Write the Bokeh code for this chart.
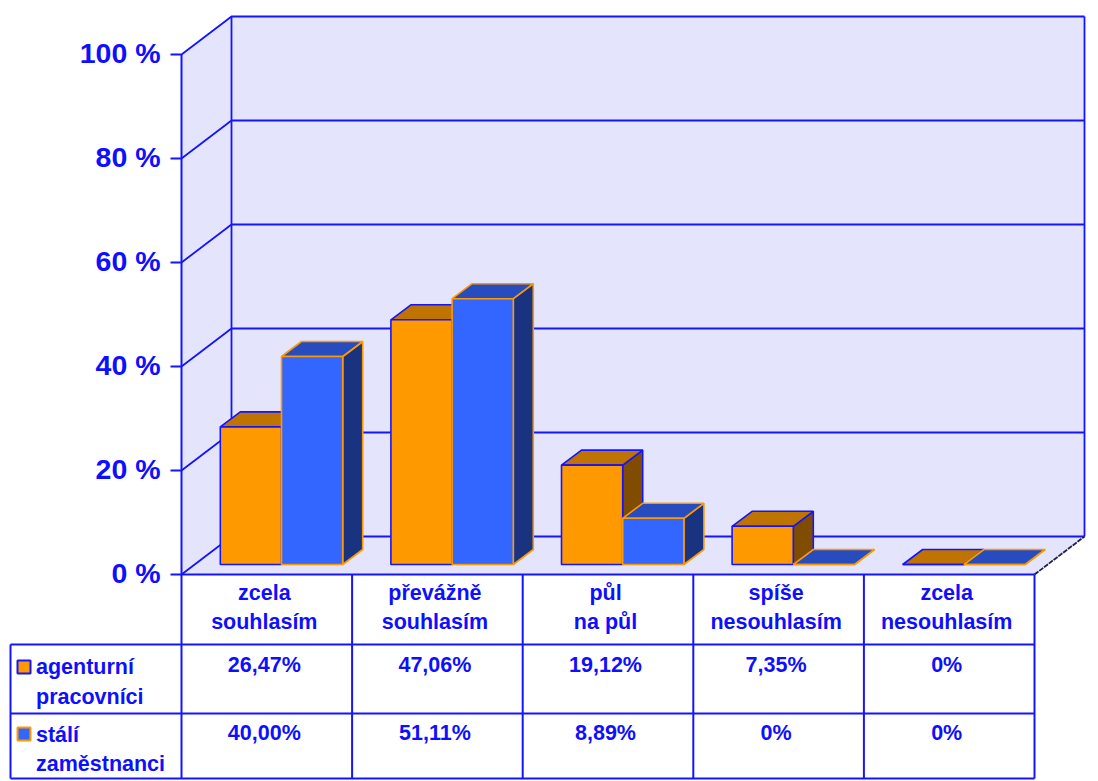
from bokeh.core.properties import value
from bokeh.embed import file_html
from bokeh.models import Range1d
from bokeh.plotting import figure
from bokeh.resources import INLINE

# Survey answers, in percent
categories = [["zcela", "souhlasím"], ["převážně", "souhlasím"], ["půl", "na půl"],
              ["spíše", "nesouhlasím"], ["zcela", "nesouhlasím"]]
agency_workers = [26.47, 47.06, 19.12, 7.35, 0]
permanent_staff = [40.00, 51.11, 8.89, 0, 0]
agency_labels = ["26,47%", "47,06%", "19,12%", "7,35%", "0%"]
permanent_labels = ["40,00%", "51,11%", "8,89%", "0%", "0%"]
agency_name = ["agenturní", "pracovníci"]
permanent_name = ["stálí", "zaměstnanci"]
y_ticks = [0, 20, 40, 60, 80, 100]

# Chart geometry, x in category widths and y in percentage points
PX_X = 170.6
PX_Y = 5.2
WALL_DX, WALL_DY = 50 / PX_X, 38 / PX_Y
BAR_W = 61.2 / PX_X
BAR_X0 = 38.8 / PX_X
BAR_BASE = 10 / PX_Y
BAR_DX, BAR_DY = 20 / PX_X, 15 / PX_Y
N = len(categories)

LINE = "#1414ff"
INK = "#0f0fff"
WALL = "#e4e4fc"
FONT = "Liberation Sans"
TEXT_SHIFT = -2.5 / PX_X


def below_zero(px):
    """Percentage-axis coordinate of a table row given in pixels below the zero line."""
    return -px / PX_Y


def px_x(px):
    """Category-axis coordinate of a position given in pixels right of the front axis."""
    return px / PX_X


p = figure(width=1098, height=781, output_backend="svg", toolbar_location=None,
           x_range=Range1d(px_x(-181), px_x(1098 - 181)),
           y_range=Range1d(below_zero(781 - 574), 574 / PX_Y),
           min_border=0, x_axis_location=None, y_axis_location=None, outline_line_color=None)
p.grid.visible = False
p.background_fill_color = "white"


def label(x, y, text, align="center", size="21.5px"):
    p.text([x], [y], text=[text], text_align=align, text_baseline="middle",
           text_font=value(FONT), text_font_style="bold", text_font_size=size, text_color=INK)


# Walls and floor of the box
p.patch([0, WALL_DX, WALL_DX, 0], [0, WALL_DY, 100 + WALL_DY, 100], fill_color=WALL, line_color=None)
p.patch([WALL_DX, N + WALL_DX, N + WALL_DX, WALL_DX],
        [WALL_DY, WALL_DY, 100 + WALL_DY, 100 + WALL_DY], fill_color=WALL, line_color=None)
p.patch([0, N, N + WALL_DX, WALL_DX], [0, 0, WALL_DY, WALL_DY], fill_color=WALL, line_color=None)

# Percentage scale: ticks, labels and the grid lines running round the walls
TICK_LIFT = 1.5 / PX_Y
for t in y_ticks:
    p.line([px_x(-11), 0, WALL_DX, N + WALL_DX], [t, t, t + WALL_DY, t + WALL_DY],
           line_color=LINE, line_width=1.8)
    label(px_x(-21), t + TICK_LIFT, f"{t} %", align="right", size="28.5px")
p.line([0, 0], [below_zero(204), 100], line_color=LINE, line_width=2)
p.line([WALL_DX, WALL_DX], [WALL_DY, 100 + WALL_DY], line_color=LINE, line_width=1.8)
p.line([N + WALL_DX, N + WALL_DX], [WALL_DY, 100 + WALL_DY], line_color=LINE, line_width=1.8)
p.line([N, N + WALL_DX], [0, WALL_DY], line_color="#222244", line_width=1.8, line_dash="5 1")


def draw_series(values, offset, front, top, side, edge):
    lefts = [i + BAR_X0 + offset for i in range(N)]
    rights = [x + BAR_W for x in lefts]
    tops = [BAR_BASE + v for v in values]
    p.patches([[r, r + BAR_DX, r + BAR_DX, r] for r in rights],
              [[BAR_BASE, BAR_BASE + BAR_DY, t + BAR_DY, t] for t in tops],
              fill_color=side, line_color=edge, line_width=1.6)
    p.patches([[l, r, r + BAR_DX, l + BAR_DX] for l, r in zip(lefts, rights)],
              [[t, t, t + BAR_DY, t + BAR_DY] for t in tops],
              fill_color=top, line_color=edge, line_width=1.6)
    p.quad(left=lefts, right=rights, bottom=BAR_BASE, top=tops,
           fill_color=front, line_color=edge, line_width=1.6)


draw_series(agency_workers, 0, "#ff9900", "#bf7300", "#804d00", LINE)
draw_series(permanent_staff, BAR_W, "#3366ff", "#264cbf", "#1a3380", "#ff9900")

# Data table under the chart
ROW1, ROW2, ROW3 = below_zero(70), below_zero(139), below_zero(204)
TABLE_LEFT = px_x(-171)
p.line([0, N], [0, 0], line_color=LINE, line_width=2)
for row in (ROW1, ROW2, ROW3):
    p.line([TABLE_LEFT, N], [row, row], line_color=LINE, line_width=2)
p.line([TABLE_LEFT, TABLE_LEFT], [ROW1, ROW3], line_color=LINE, line_width=2)
for i in range(1, N + 1):
    p.line([i, i], [0, ROW3], line_color=LINE, line_width=2)

for i, lines in enumerate(categories):
    for line, offset in zip(lines, (18.5, 47.5)):
        label(i + 0.5 + TEXT_SHIFT, below_zero(offset), line)
    label(i + 0.5 + TEXT_SHIFT, below_zero(90.5), agency_labels[i])
    label(i + 0.5 + TEXT_SHIFT, below_zero(158), permanent_labels[i])

NAME_X = px_x(-145.5)
for lines, offsets in ((agency_name, (92, 122)), (permanent_name, (160, 189))):
    for line, offset in zip(lines, offsets):
        label(NAME_X, below_zero(offset), line, align="left")

# Legend keys in the first table column
KEY_L, KEY_R = px_x(-164), px_x(-151)
for top_px, fill, edge in ((86, "#ff9900", LINE), (153, "#3366ff", "#ff9900")):
    p.quad(left=[KEY_L], right=[KEY_R], top=[below_zero(top_px)], bottom=[below_zero(top_px + 13)],
           fill_color=fill, line_color=edge, line_width=2)

open("out.html", "w").write(file_html(p, INLINE))
